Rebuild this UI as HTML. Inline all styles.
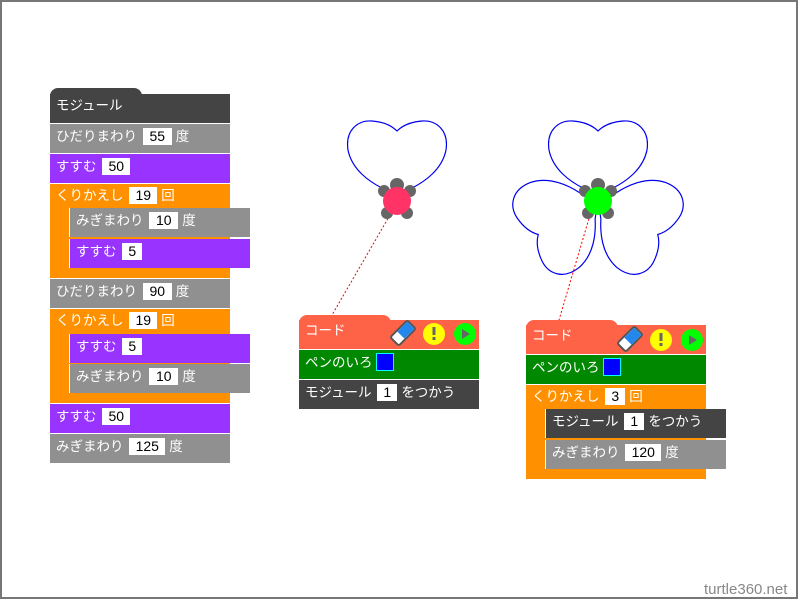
<!DOCTYPE html>
<html><head><meta charset="utf-8"><style>
body{margin:0;width:798px;height:599px;overflow:hidden;background:#fff;position:relative;font-family:"Liberation Sans","Noto Sans CJK JP",sans-serif;}
.frame{position:absolute;left:0;top:0;width:794px;height:595px;border:2px solid #777;}
.b{position:absolute;height:29px;color:#fff;font-size:13.5px;line-height:26px;padding-left:6px;box-sizing:border-box;white-space:nowrap;}
.g{background:#909090}.p{background:#9933ff}.o{background:#ff9100}.d{background:#444}.gr{background:#008800}.r{background:#ff6347}
.n{display:inline-block;background:#fff;color:#000;height:17px;line-height:17px;vertical-align:middle;text-align:center;margin:0 4px 0 2px;position:relative;top:-1px;font-size:14px}
.inner{border-left:1px solid #fff;}
.tab{position:absolute;height:8px;border-radius:8px 8px 0 0;}
.sq{display:inline-block;width:16px;height:16px;background:#0000ff;border:1px solid #0ff;vertical-align:middle;margin-left:3px;position:relative;top:-1px}
</style></head><body>
<div class="frame"></div>

<!-- left stack -->
<div class="tab d" style="left:50px;top:88px;width:92px;"></div>
<div class="b d" style="left:50px;top:94px;width:180px;line-height:24px;">モジュール</div>
<div class="b g" style="left:50px;top:124px;width:180px;">ひだりまわり <span class="n" style="width:29px">55</span>度</div>
<div class="b p" style="left:50px;top:154px;width:180px;">すすむ <span class="n" style="width:28px">50</span></div>
<div class="b o" style="left:50px;top:184px;width:180px;height:94px;line-height:24px;">くりかえし <span class="n" style="width:28px">19</span>回</div>
<div class="b g inner" style="left:69px;top:208px;width:181px;">みぎまわり <span class="n" style="width:29px">10</span>度</div>
<div class="b p inner" style="left:69px;top:239px;width:181px;">すすむ <span class="n" style="width:20px">5</span></div>
<div class="b g" style="left:50px;top:279px;width:180px;">ひだりまわり <span class="n" style="width:29px">90</span>度</div>
<div class="b o" style="left:50px;top:309px;width:180px;height:94px;line-height:24px;">くりかえし <span class="n" style="width:28px">19</span>回</div>
<div class="b p inner" style="left:69px;top:334px;width:181px;">すすむ <span class="n" style="width:20px">5</span></div>
<div class="b g inner" style="left:69px;top:364px;width:181px;">みぎまわり <span class="n" style="width:29px">10</span>度</div>
<div class="b p" style="left:50px;top:404px;width:180px;">すすむ <span class="n" style="width:28px">50</span></div>
<div class="b g" style="left:50px;top:434px;width:180px;">みぎまわり <span class="n" style="width:36px">125</span>度</div>

<!-- middle code -->
<div class="tab r" style="left:299px;top:315px;width:92px;"></div>
<div class="b r" style="left:299px;top:320px;width:180px;line-height:22px;">コード</div>
<div class="b gr" style="left:299px;top:350px;width:180px;">ペンのいろ<span class="sq"></span></div>
<div class="b d" style="left:299px;top:380px;width:180px;">モジュール <span class="n" style="width:20px">1</span>をつかう</div>

<!-- right code -->
<div class="tab r" style="left:526px;top:320px;width:92px;"></div>
<div class="b r" style="left:526px;top:325px;width:180px;line-height:22px;">コード</div>
<div class="b gr" style="left:526px;top:355px;width:180px;">ペンのいろ<span class="sq"></span></div>
<div class="b o" style="left:526px;top:385px;width:180px;height:94px;line-height:24px;">くりかえし <span class="n" style="width:20px">3</span>回</div>
<div class="b d inner" style="left:545px;top:409px;width:181px;">モジュール <span class="n" style="width:20px">1</span>をつかう</div>
<div class="b g inner" style="left:545px;top:440px;width:181px;">みぎまわり <span class="n" style="width:36px">120</span>度</div>

<svg width="798" height="599" style="position:absolute;left:0;top:0">
<defs>
<path id="heart" d="M0,0 L-15,-12 C-27,-18 -45,-30 -49,-50 C-52,-70 -39,-80 -25,-79 C-12,-78 -4,-73 0,-69 C4,-73 12,-78 25,-79 C39,-80 52,-70 49,-50 C45,-30 27,-18 15,-12 Z" fill="none" stroke="#0000ee" stroke-width="1.2"/>
<g id="eraser"><g transform="rotate(-45)"><rect x="-12" y="-6" width="24" height="12" rx="2" fill="#fff" stroke="#555" stroke-width="2"/><rect x="-3" y="-5" width="14" height="10" fill="#2288ee"/></g></g>
<g id="icons"><use href="#eraser" x="0" y="0"/><circle cx="31" cy="1" r="11" fill="#ffff00"/><rect x="29.5" y="-6" width="3" height="8" fill="#666"/><rect x="29.5" y="4" width="3" height="3" fill="#666"/><circle cx="62" cy="1" r="11" fill="#00ff00"/><polygon points="59,-4 67,1 59,6" fill="#666"/></g>
<g id="turtle"><circle cx="0" cy="-16" r="7" fill="#666"/><circle cx="-13" cy="-10" r="6" fill="#666"/><circle cx="13" cy="-10" r="6" fill="#666"/><circle cx="-10" cy="12" r="6" fill="#666"/><circle cx="10" cy="12" r="6" fill="#666"/></g>
</defs>
<use href="#heart" x="397" y="200"/>
<g transform="translate(598,200)"><use href="#heart"/><use href="#heart" transform="rotate(120)"/><use href="#heart" transform="rotate(-120)"/></g>
<line x1="390" y1="215" x2="332" y2="315" stroke="#f00" stroke-dasharray="2,2"/>
<line x1="590" y1="215" x2="559" y2="320" stroke="#f00" stroke-dasharray="2,2"/>
<g transform="translate(397,201)"><use href="#turtle"/><circle r="14" fill="#ff3366"/></g>
<g transform="translate(598,201)"><use href="#turtle"/><circle r="14" fill="#00ff00"/></g>
<use href="#icons" x="403" y="333"/>
<use href="#icons" x="630" y="339"/>
<text x="704" y="594" font-family="Liberation Sans, sans-serif" font-size="15" fill="#888">turtle360.net</text>
</svg>
</body></html>
